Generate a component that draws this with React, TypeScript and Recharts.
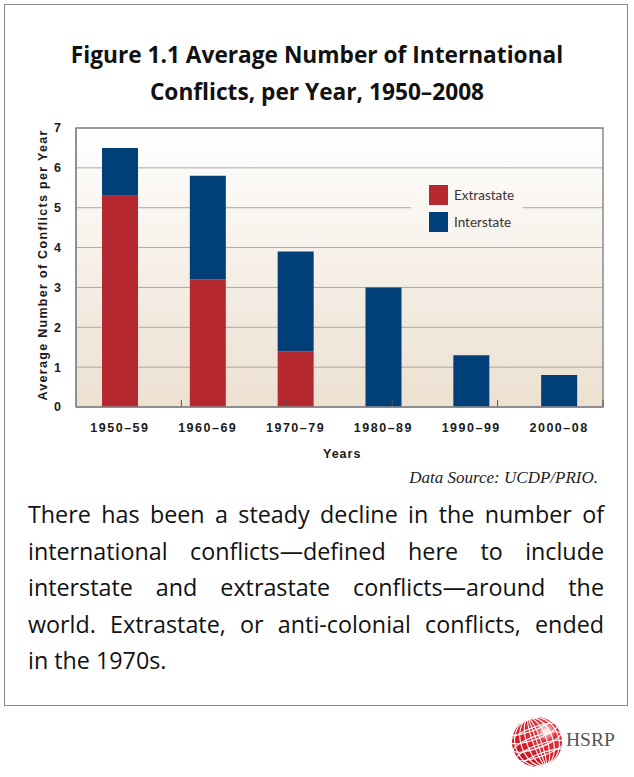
import React from 'react';
import { BarChart, Bar, XAxis, YAxis, CartesianGrid, Legend, ReferenceLine, ReferenceArea } from 'recharts';

const periods = ['1950–59', '1960–69', '1970–79', '1980–89', '1990–99', '2000–08'];
const extrastate = [5.3, 3.2, 1.4, 0, 0, 0];
const interstate = [1.2, 2.6, 2.5, 3.0, 1.3, 0.8];
const yTicks = [0, 1, 2, 3, 4, 5, 6, 7];

const noteLines = [
  'There has been a steady decline in the number of',
  'international conflicts—defined here to include',
  'interstate and extrastate conflicts—around the',
  'world. Extrastate, or anti-colonial conflicts, ended',
  'in the 1970s.',
];

const RED = '#b5282f';
const BLUE = '#003f78';

const data = periods.map((p, i) => ({ period: p, Extrastate: extrastate[i], Interstate: interstate[i] }));
const boundaries = periods.slice(1).map((_, i) => i + 1);

const axisFont = { fontFamily: 'Liberation Sans, Arial, sans-serif', fontWeight: 700, fill: '#1a1a1a' };

function XTick(props: any) {
  const { x, y, payload } = props;
  return (
    <text x={x} y={y} dy={17} textAnchor="middle" fontSize={12.5} letterSpacing={1.5} style={axisFont as any}>
      {payload.value}
    </text>
  );
}

function SepTick(props: any) {
  const bottom = Math.max(props.y1, props.y2);
  return <line x1={props.x1} x2={props.x1} y1={bottom} y2={bottom - 7} stroke="#555" strokeWidth={1} />;
}

function LegendBox(props: any) {
  const items = props.payload || [];
  return (
    <div style={{ padding: '5px 0 0 18px' }}>
      {items.map((it: any) => (
        <div key={it.value} style={{ display: 'flex', alignItems: 'center', height: 27 }}>
          <span style={{ width: 19, height: 20, background: it.color, display: 'inline-block', marginRight: 6 }} />
          <span style={{ fontFamily: 'Lato, sans-serif', fontSize: 13.5, color: '#3b3430' }}>{it.value}</span>
        </div>
      ))}
    </div>
  );
}

function Globe() {
  const lats = [-18, -9, 0, 9, 18];
  const lons = [4, 10, 16, 22];
  return (
    <svg width={60} height={60} style={{ position: 'absolute', left: 507, top: 712 }}>
      <defs>
        <radialGradient id="gl" cx="0.68" cy="0.28" r="0.8">
          <stop offset="0" stopColor="#ffffff" />
          <stop offset="0.25" stopColor="#e8303c" />
          <stop offset="1" stopColor="#c0121e" />
        </radialGradient>
        <clipPath id="gc">
          <circle cx={30} cy={30} r={25} />
        </clipPath>
      </defs>
      <circle cx={30} cy={30} r={25} fill="url(#gl)" />
      <g clipPath="url(#gc)" stroke="#fff" strokeWidth={1.1} fill="none" transform="rotate(-20 30 30)">
        {lats.map((l) => (
          <ellipse key={'a' + l} cx={30} cy={30 + l} rx={25} ry={6} />
        ))}
        {lons.map((r) => (
          <ellipse key={'o' + r} cx={30} cy={30} rx={r} ry={25} />
        ))}
        <line x1={30} x2={30} y1={4} y2={56} />
      </g>
    </svg>
  );
}

export default function App() {
  return (
    <div style={{ position: 'absolute', left: 0, top: 0, width: 634, height: 777, background: '#fff' }}>
      <div
        style={{
          position: 'absolute', left: 4, top: 4, width: 622, height: 700,
          border: '1.5px solid #8a8a8a', boxSizing: 'content-box',
        }}
      />
      <div
        style={{
          position: 'absolute', left: 0, top: 36, width: 634, textAlign: 'center',
          fontFamily: 'Open Sans, sans-serif', fontWeight: 700, fontSize: 22.7, lineHeight: '37px', color: '#111',
        }}
      >
        Figure 1.1 Average Number of International
        <br />
        Conflicts, per Year, 1950–2008
      </div>

      <div style={{ position: 'absolute', left: 0, top: 0 }}>
        <BarChart width={634} height={480} data={data} margin={{ top: 128, right: 31, left: 36, bottom: 43 }}>
          <defs>
            <linearGradient id="bg" x1="0" y1="0" x2="0" y2="1">
              <stop offset="0" stopColor="#ffffff" />
              <stop offset="1" stopColor="#ece0d0" />
            </linearGradient>
          </defs>
          <CartesianGrid vertical={false} stroke="#a9a9a9" fill="url(#bg)" />
          <XAxis
            dataKey="period"
            tick={<XTick />}
            tickLine={false}
            axisLine={{ stroke: '#8a8a8a', strokeWidth: 1.5 }}
            height={30}
            interval={0}
          />
          <XAxis xAxisId="sep" type="number" domain={[0, periods.length]} hide />
          <YAxis
            domain={[0, 7]}
            ticks={yTicks}
            width={40}
            tickLine={false}
            tickMargin={9}
            axisLine={{ stroke: '#8a8a8a', strokeWidth: 1.5 }}
            tick={{ ...axisFont, fontSize: 12.5 }}
          />
          <ReferenceArea y1={0} y2={7} fill="none" stroke="#8a8a8a" strokeWidth={1.5} ifOverflow="visible" />
          {boundaries.map((b) => (
            <ReferenceLine key={b} xAxisId="sep" x={b} shape={<SepTick />} />
          ))}
          <Bar dataKey="Extrastate" stackId="a" fill={RED} barSize={36} isAnimationActive={false} />
          <Bar dataKey="Interstate" stackId="a" fill={BLUE} barSize={36} isAnimationActive={false} />
          <Legend
            layout="vertical"
            align="center"
            verticalAlign="middle"
            content={<LegendBox />}
            wrapperStyle={{
              left: 411, top: 176, width: 112, height: 62,
              background: 'linear-gradient(#fcfaf7, #f8f3ed)',
            }}
          />
        </BarChart>
      </div>

      <div style={{ position: 'absolute', left: 43, top: 265, width: 0, height: 0 }}>
        <div
          style={{
            position: 'absolute', left: 0, top: 0, transform: 'translate(-50%, -50%) rotate(-90deg)',
            whiteSpace: 'nowrap', fontFamily: 'Liberation Sans, Arial, sans-serif', fontWeight: 700,
            fontSize: 12.5, letterSpacing: 1.3, color: '#1a1a1a',
          }}
        >
          Average Number of Conflicts per Year
        </div>
      </div>

      <div
        style={{
          position: 'absolute', left: 323, top: 447, fontFamily: 'Liberation Sans, Arial, sans-serif',
          fontWeight: 700, fontSize: 12.5, letterSpacing: 1, color: '#1a1a1a',
        }}
      >
        Years
      </div>
      <div
        style={{
          position: 'absolute', right: 36, top: 468, fontFamily: 'Liberation Serif, serif',
          fontStyle: 'italic', fontSize: 17, color: '#222',
        }}
      >
        Data Source: UCDP/PRIO.
      </div>
      <div
        style={{
          position: 'absolute', left: 28, top: 496, width: 576,
          fontFamily: 'Open Sans, sans-serif', fontSize: 23.3, lineHeight: '36.6px', color: '#111',
        }}
      >
        {noteLines.map((line, i) => (
          <div
            key={i}
            style={{ textAlign: 'justify', textAlignLast: i < noteLines.length - 1 ? 'justify' : 'left', whiteSpace: 'nowrap' }}
          >
            {line}
          </div>
        ))}
      </div>

      <Globe />
      <div
        style={{
          position: 'absolute', left: 566, top: 729, fontFamily: 'Liberation Serif, serif',
          fontSize: 19.5, color: '#555',
        }}
      >
        HSRP
      </div>
    </div>
  );
}
